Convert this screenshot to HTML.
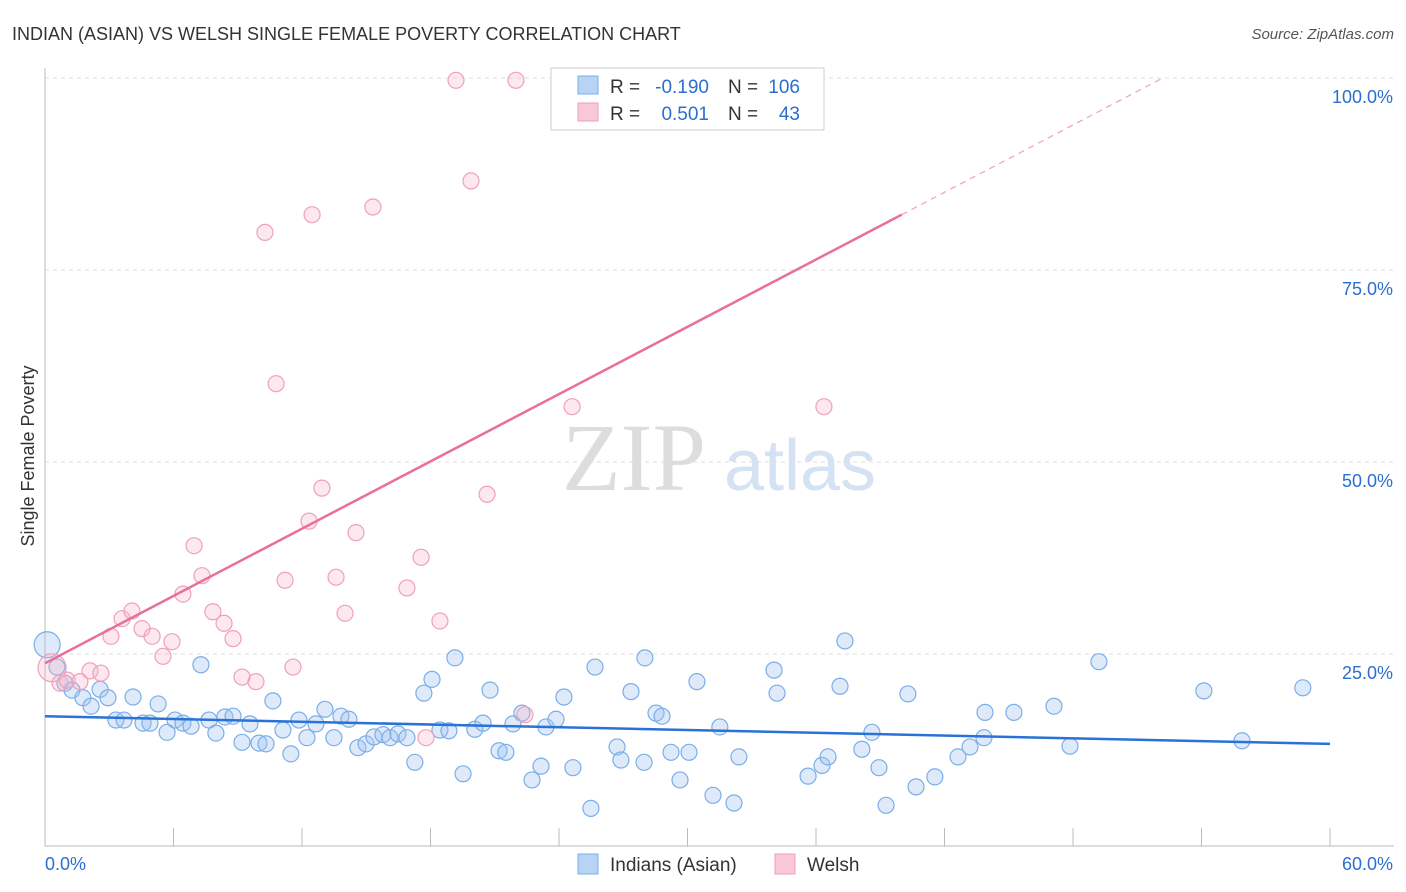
<!DOCTYPE html>
<html><head><meta charset="utf-8">
<style>
body{margin:0;background:#fff;font-family:"Liberation Sans",sans-serif;}
#wrap{position:relative;width:1406px;height:892px;overflow:hidden;}
</style></head>
<body>
<div id="wrap">
<svg id="svg" width="1406" height="892" xmlns="http://www.w3.org/2000/svg" font-family="Liberation Sans, sans-serif">
<text x="12" y="40" font-size="18" fill="#333">INDIAN (ASIAN) VS WELSH SINGLE FEMALE POVERTY CORRELATION CHART</text>
<text x="1394" y="39" font-size="15" fill="#555" text-anchor="end" font-style="italic">Source: ZipAtlas.com</text>
<text x="634" y="490" font-size="96" fill="#ddd" text-anchor="middle" font-family="Liberation Serif, serif">ZIP</text>
<text x="800" y="490" font-size="72" fill="#d4e2f4" text-anchor="middle">atlas</text>
<g id="grid"></g>
<g id="axes"></g>
<g id="marks"></g>
<text transform="translate(34,456) rotate(-90)" font-size="18" fill="#333" text-anchor="middle">Single Female Poverty</text>
<g>
<rect x="551" y="68" width="273" height="62" fill="#fff" stroke="#ccc"/>
<rect x="578" y="76" width="20" height="18" fill="#b8d4f4" stroke="#7aaee8"/>
<rect x="578" y="103" width="20" height="18" fill="#f9c8d6" stroke="#f0a0b8"/>
<text x="610" y="93" font-size="19" fill="#333">R =</text>
<text x="709" y="93" font-size="19" fill="#2a6fd0" text-anchor="end">-0.190</text>
<text x="728" y="93" font-size="19" fill="#333">N =</text>
<text x="800" y="93" font-size="19" fill="#2a6fd0" text-anchor="end">106</text>
<text x="610" y="120" font-size="19" fill="#333">R =</text>
<text x="709" y="120" font-size="19" fill="#2a6fd0" text-anchor="end">0.501</text>
<text x="728" y="120" font-size="19" fill="#333">N =</text>
<text x="800" y="120" font-size="19" fill="#2a6fd0" text-anchor="end">43</text>
</g>
<g>
<rect x="578" y="854" width="20" height="20" fill="#b8d4f4" stroke="#7aaee8"/>
<text x="610" y="871" font-size="19" fill="#333">Indians (Asian)</text>
<rect x="775" y="854" width="20" height="20" fill="#f9c8d6" stroke="#f0a0b8"/>
<text x="807" y="871" font-size="19" fill="#333">Welsh</text>
</g>
</svg>
</div>
<script>
const blueX=[0.1,0.56,0.93,1.26,1.77,2.15,2.57,2.94,3.31,3.69,4.11,4.58,4.9,5.28,5.7,6.07,6.44,6.82,7.28,7.66,7.98,8.4,8.78,9.2,9.57,9.99,10.32,10.64,11.11,11.48,11.86,12.23,12.65,13.07,13.49,13.82,14.19,14.61,14.99,15.36,15.78,16.11,16.48,16.9,17.27,17.69,18.07,18.44,18.86,19.14,19.52,20.07,20.45,20.78,21.2,21.52,21.85,22.27,22.74,23.16,23.39,23.86,24.23,24.65,25.49,25.68,26.71,26.89,27.36,27.97,28.01,28.53,28.81,29.23,29.65,30.07,30.44,31.19,31.51,32.17,32.4,34.04,34.18,35.63,36.28,36.56,37.12,37.35,38.14,38.61,38.94,39.27,40.29,40.67,41.55,42.63,43.19,43.89,43.84,45.24,47.11,47.86,49.21,54.11,55.89,58.73];
const blueY=[26.2,23.3,21.2,20.3,19.3,18.2,20.4,19.3,16.4,16.4,19.4,16.0,16.0,18.5,14.8,16.4,16.0,15.6,23.6,16.4,14.7,16.8,16.9,13.5,15.9,13.4,13.3,18.9,15.1,12.0,16.4,14.1,15.9,17.8,14.1,16.9,16.5,12.8,13.3,14.2,14.5,14.1,14.6,14.1,10.9,19.9,21.7,15.1,15.0,24.5,9.4,15.2,16.0,20.3,12.4,12.2,15.9,17.3,8.6,10.4,15.5,16.5,19.4,10.2,4.9,23.3,12.9,11.2,20.1,10.9,24.5,17.3,16.9,12.2,8.6,12.2,21.4,6.6,15.5,5.6,11.6,22.9,19.9,9.1,10.5,11.6,20.8,26.7,12.6,14.8,10.2,5.3,19.8,7.7,9.0,11.6,12.9,17.4,14.1,17.4,18.2,13.0,24.0,20.2,13.7,20.6];
const pinkX=[0.33,0.7,1.03,1.63,2.1,2.61,3.08,3.6,4.06,4.53,5.0,5.51,5.93,6.44,6.96,7.33,7.84,8.36,8.78,9.2,9.85,10.27,10.79,11.21,11.58,12.47,12.93,13.59,14.01,14.52,15.31,16.9,17.56,18.44,17.79,19.19,19.89,20.64,21.99,22.41,24.61,36.37,12.33];
const pinkY=[23.2,21.2,21.6,21.4,22.8,22.5,27.3,29.6,30.6,28.3,27.3,24.7,26.6,32.8,39.1,35.2,30.5,29.0,27.0,22.0,21.4,79.9,60.2,34.6,23.3,82.2,46.6,35.0,30.3,40.8,83.2,33.6,37.6,29.3,14.1,99.7,86.6,45.8,99.7,17.1,57.2,57.2,42.3];
const blueFit=[16.9,13.3];
const pinkFit=[23.8,1.46];
const yTicks=[25,50,75,100];
const xTickVals=[0,6,12,18,24,30,36,42,48,54,60];
const NS="http://www.w3.org/2000/svg";
const sx=v=>45+v*21.417, sy=v=>846-v*7.68;
function mk(tag,attrs,parent){const e=document.createElementNS(NS,tag);for(const k in attrs)e.setAttribute(k,attrs[k]);document.getElementById(parent).appendChild(e);return e;}
yTicks.forEach(t=>{
  const l=mk('line',{x1:45,x2:1394,y1:sy(t),y2:sy(t),stroke:'#ddd','stroke-dasharray':'4,4'},'grid');
  
  
  const tx=mk('text',{x:1393,y:sy(t)+25,'font-size':18,fill:'#2a6fd0','text-anchor':'end'},'grid');
  tx.textContent=t.toFixed(1)+'%';
  
  
});
mk('line',{x1:45,x2:45,y1:68,y2:846,stroke:'#bbb'},'axes');
mk('line',{x1:45,x2:1394,y1:846,y2:846,stroke:'#bbb'},'axes');
xTickVals.forEach(t=>{
  const l=mk('line',{x1:sx(t),x2:sx(t),y1:828,y2:846,stroke:'#bbb'},'axes');
  
  
});
const x0=mk('text',{x:45,y:870,'font-size':18,fill:'#2a6fd0'},'axes');x0.textContent='0.0%';


const x1=mk('text',{x:1393,y:870,'font-size':18,fill:'#2a6fd0','text-anchor':'end'},'axes');x1.textContent='60.0%';


blueX.forEach((x,i)=>{
  const c=mk('circle',{cx:sx(x),cy:sy(blueY[i]),r:i==0?13:8,fill:'rgba(160,196,240,0.35)',stroke:'#7aaee8','stroke-width':1.2},'marks');
  
  
});
pinkX.forEach((x,i)=>{
  const c=mk('circle',{cx:sx(x),cy:sy(pinkY[i]),r:i==0?14:8,fill:'rgba(245,180,200,0.3)',stroke:'#f0a0b8','stroke-width':1.2},'marks');
  
  
});
const bl=mk('line',{x1:sx(0),y1:sy(blueFit[0]),x2:sx(60),y2:sy(blueFit[1]),stroke:'#2a72d6','stroke-width':2.5},'marks');


const pEnd=40;
const pl=mk('line',{x1:sx(0),y1:sy(pinkFit[0]),x2:sx(pEnd),y2:sy(pinkFit[0]+pinkFit[1]*pEnd),stroke:'#e8709a','stroke-width':2.5},'marks');


const xMax=(100-pinkFit[0])/pinkFit[1];
const pd=mk('line',{x1:sx(pEnd),y1:sy(pinkFit[0]+pinkFit[1]*pEnd),x2:sx(xMax),y2:sy(100),stroke:'#f0a0b8','stroke-width':1.2,'stroke-dasharray':'6,5'},'marks');


</script>
</body></html>
